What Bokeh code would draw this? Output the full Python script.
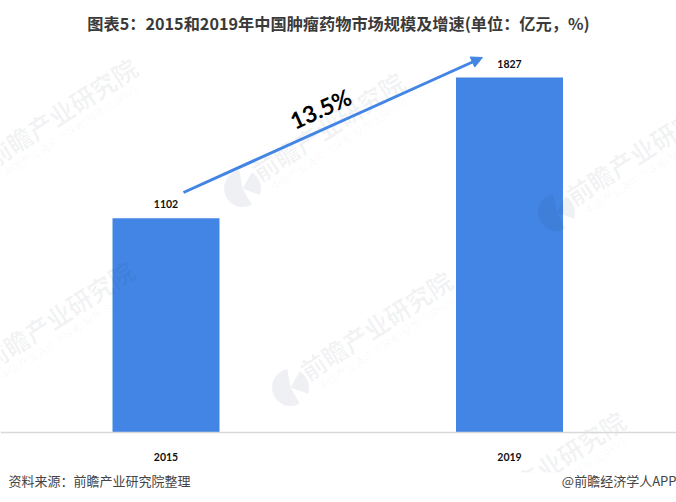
from bokeh.plotting import figure
from bokeh.models import Range1d, Arrow, NormalHead, FixedTicker, ColumnDataSource
from bokeh.core.properties import value
from bokeh.embed import file_html
from bokeh.resources import INLINE

title_text = "图表5：2015和2019年中国肿瘤药物市场规模及增速(单位：亿元，%)"
source_text = "资料来源：前瞻产业研究院整理"
brand_text = "@前瞻经济学人APP"
categories = ["2015", "2019"]
positions = [0, 1]
market_size = [1102, 1827]
growth_label = "13.5%"
wm_big = "前瞻产业研究院"
wm_small = "中国产业咨询领导者(股票:839599)"

BAR = "#4285E4"
W, H = 676, 502
FRAME_TOP, AXIS_Y = 40, 432
PX_PER_UNIT = 355 / 1827
PX_PER_X = 343.5
X0 = 165.5

def dx(px):
    return (px - X0) / PX_PER_X

def dy(py):
    return (AXIS_Y - py) / PX_PER_UNIT

p = figure(width=W, height=H, output_backend="svg", toolbar_location=None,
           x_range=Range1d(dx(0), dx(W)), y_range=Range1d(dy(H), dy(FRAME_TOP)),
           min_border_left=0, min_border_right=0, min_border_top=FRAME_TOP, min_border_bottom=0,
           background_fill_color="white", border_fill_color="white", outline_line_color=None)

p.title.text = title_text
p.title.align = "center"
p.title.text_font = "Noto Sans CJK SC"
p.title.text_font_size = "16.2px"
p.title.text_font_style = "bold"
p.title.text_color = "#3a3a3a"
p.title.standoff = 12

p.grid.visible = False
p.yaxis.visible = False
ax = p.xaxis[0]
ax.fixed_location = 0
ax.ticker = FixedTicker(ticks=positions)
ax.major_label_overrides = {pos: c for pos, c in zip(positions, categories)}
ax.major_tick_line_color = None
ax.minor_tick_line_color = None
ax.axis_line_color = "#d9d9d9"
ax.axis_line_width = 1.5
ax.major_label_standoff = 14
ax.major_label_text_font = "Lato"
ax.major_label_text_font_style = "bold"
ax.major_label_text_font_size = "10.5px"
ax.major_label_text_color = "#111111"

src = ColumnDataSource(dict(x=positions, top=market_size, label=[str(v) for v in market_size]))
p.vbar(x="x", top="top", bottom=0, width=107 / PX_PER_X, source=src, fill_color=BAR, line_color=None)
p.text(x="x", y="top", text="label", source=src, text_align="center", text_baseline="bottom",
       y_offset=-10, text_font=value("Lato"), text_font_style="bold", text_font_size="10.5px",
       text_color="#111111")

# faint diagonal watermarks: logo position on the page
logos = [(-25, 174), (242, 188), (556, 212), (-28, 377), (290, 387), (463, 527)]
ANG = 33
INK = "#1f3050"
for lx, ly in logos:
    for a0, a1 in [(100, 300), (340, 60)]:
        p.wedge(x=[dx(lx)], y=[dy(ly)], radius=18.5, radius_units="screen",
                start_angle=a0, end_angle=a1, start_angle_units="deg", end_angle_units="deg",
                direction="anticlock", fill_color=INK, fill_alpha=0.07, line_color=None)
    p.text(x=[dx(lx + 12)], y=[dy(ly - 15)], text=[wm_big], angle=ANG, angle_units="deg",
           text_align="left", text_baseline="middle", text_font=value("Noto Sans CJK SC"),
           text_font_style="bold", text_font_size="25px", text_color=INK, text_alpha=0.06)
    p.text(x=[dx(lx + 29)], y=[dy(ly - 1)], text=[wm_small], angle=ANG, angle_units="deg",
           text_align="left", text_baseline="middle", text_font=value("Noto Sans CJK SC"),
           text_font_size="10.5px", text_color=INK, text_alpha=0.045)

# white footer band hides watermark below y=472
p.quad(left=[dx(0)], right=[dx(W)], bottom=[dy(H)], top=[dy(472)], fill_color="white", line_color=None)

arrow_x = [dx(183), dx(482)]
arrow_y = [dy(192), dy(57)]
p.add_layout(Arrow(end=NormalHead(size=11, fill_color=BAR, line_color=BAR),
                   x_start=arrow_x[0], y_start=arrow_y[0], x_end=arrow_x[1], y_end=arrow_y[1],
                   line_color=BAR, line_width=3))

p.text(x=[dx(320)], y=[dy(108)], text=[growth_label], angle=24.3, angle_units="deg",
       text_align="center", text_baseline="middle", text_font=value("Lato"),
       text_font_style="bold", text_font_size="23px", text_color="#000000")

p.text(x=[dx(8)], y=[dy(480)], text=[source_text], text_font=value("Noto Sans CJK SC"),
       text_font_size="13px", text_color="#444444", text_align="left", text_baseline="middle")
p.text(x=[dx(676)], y=[dy(480)], text=[brand_text], text_font=value("Noto Sans CJK SC"),
       text_font_size="13px", text_color="#444444", text_align="right", text_baseline="middle")

open("out.html", "w").write(file_html(p, INLINE))
